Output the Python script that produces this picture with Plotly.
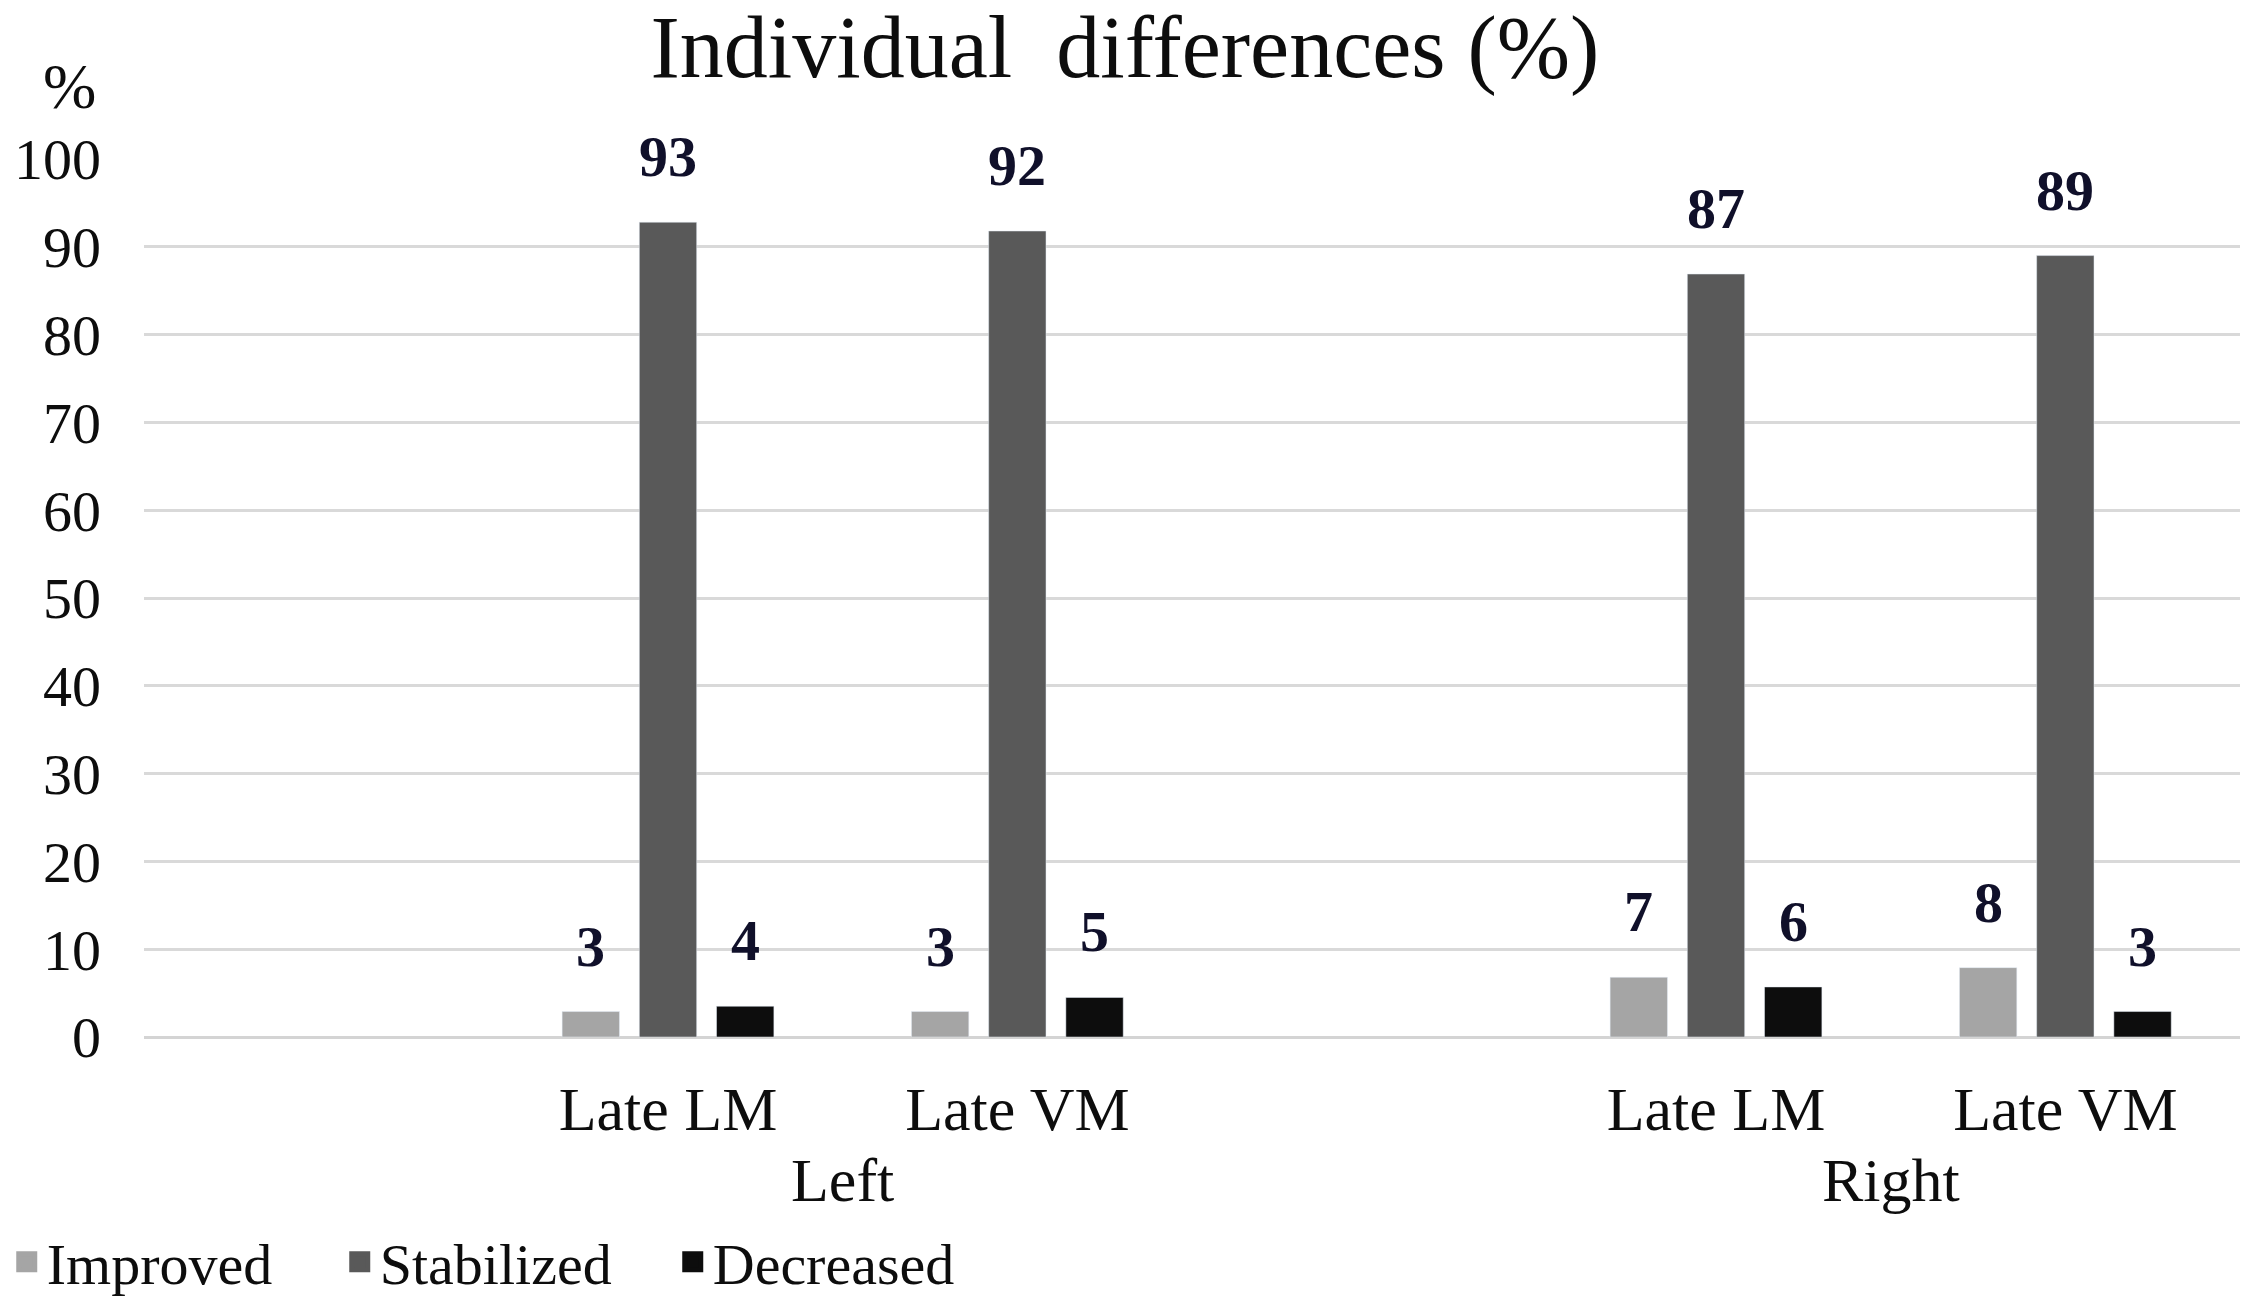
import math
import plotly.graph_objects as go

# ---------------- data ----------------
categories = ["gap_a", "Left|Late LM", "Left|Late VM", "gap_b", "Right|Late LM", "Right|Late VM"]
tick_cats = ["Left|Late LM", "Left|Late VM", "Right|Late LM", "Right|Late VM"]
tick_labels = ["Late LM", "Late VM", "Late LM", "Late VM"]
groups = ["Left", "Right"]
series_names = ["Improved", "Stabilized", "Decreased"]
improved = [None, 2.9, 2.9, None, 6.8, 7.9]
stabilized = [None, 92.8, 91.8, None, 86.9, 89.0]
decreased = [None, 3.5, 4.5, None, 5.7, 2.9]
y_ticks = list(range(0, 101, 10))

# ---------------- style ----------------
W, H = 2250, 1297
M_L, M_R, M_T, M_B = 144, 10, 159, 260
BARGAP = 0.337
BARGROUPGAP = 0.257
FONT = "Liberation Serif"
colors = ["#a5a5a5", "#595959", "#0d0d0d"]
TXT = "#0d0d0d"

series_values = [improved, stabilized, decreased]

fig = go.Figure()
for name, vals, col in zip(series_names, series_values, colors):
    fig.add_trace(go.Bar(
        name=name, x=categories, y=vals, marker_color=col,
        showlegend=False, hoverinfo="x+y",
    ))
# legend entries (larger square symbols)
for name, col in zip(series_names, colors):
    fig.add_trace(go.Scatter(
        name=name, x=[None], y=[None], mode="markers",
        marker=dict(symbol="square", size=16, color=col, line=dict(color=col, width=5)),
        showlegend=True,
    ))

# data labels
plot_w = W - M_L - M_R
slot_px = plot_w / len(categories) * (1 - BARGAP) / len(series_names)
annotations = []
for i, vals in enumerate(series_values):
    for cat, v in zip(categories, vals):
        if v is None:
            continue
        annotations.append(dict(
            x=cat, y=v, xref="x", yref="y",
            text=str(int(math.floor(v + 0.5))),
            showarrow=False, yanchor="bottom", xanchor="center",
            xshift=(i - (len(series_names) - 1) / 2) * slot_px, yshift=31,
            font=dict(family=FONT, size=58, color="#10102a", weight="bold"),
        ))

# group labels
for g in groups:
    idx = [k for k, c in enumerate(categories) if c.startswith(g + "|")]
    annotations.append(dict(
        x=sum(idx) / len(idx), y=-0.163, xref="x", yref="paper",
        text=g, showarrow=False, xanchor="center", yanchor="middle",
        font=dict(family=FONT, size=62, color=TXT),
    ))

# "%" unit label
annotations.append(dict(
    x=-0.0219, y=1.083, xref="paper", yref="paper", text="%",
    showarrow=False, xanchor="right", yanchor="middle",
    font=dict(family=FONT, size=64, color=TXT),
))

fig.update_layout(
    width=W, height=H,
    margin=dict(l=M_L, r=M_R, t=M_T, b=M_B, pad=0),
    paper_bgcolor="white", plot_bgcolor="white",
    barmode="group", bargap=BARGAP, bargroupgap=BARGROUPGAP,
    font=dict(family=FONT, color=TXT),
    title=dict(
        text="Individual  differences (%)",
        x=0.5, xanchor="center", y=1 - 46 / H, yanchor="middle",
        xref="container", yref="container",
        font=dict(family=FONT, size=88, color=TXT),
    ),
    xaxis=dict(
        type="category", categoryorder="array", categoryarray=categories,
        range=[-0.5, len(categories) - 0.5],
        tickvals=tick_cats, ticktext=tick_labels,
        showgrid=False, ticks="", showline=False, zeroline=False,
        tickfont=dict(family=FONT, size=62, color=TXT),
        ticklabelstandoff=30,
    ),
    yaxis=dict(
        range=[0, 100], tickvals=y_ticks,
        showgrid=True, gridcolor="#d9d9d9", gridwidth=3,
        zeroline=True, zerolinecolor="#d4d4d4", zerolinewidth=3,
        showline=False, ticks="",
        tickfont=dict(family=FONT, size=58, color=TXT),
        ticklabelstandoff=42,
    ),
    legend=dict(
        orientation="h", xref="container", yref="container",
        x=0.003, xanchor="left", y=1 - 1262 / H, yanchor="middle",
        font=dict(family=FONT, size=58, color=TXT),
        entrywidth=288, entrywidthmode="pixels",
        bgcolor="rgba(0,0,0,0)", borderwidth=0,
        itemclick=False, itemdoubleclick=False,
    ),
    annotations=annotations,
)

fig.write_html(
    "out.html",
    config={"displayModeBar": False},
    post_script="document.body.style.margin='0';document.body.style.padding='0';",
)
